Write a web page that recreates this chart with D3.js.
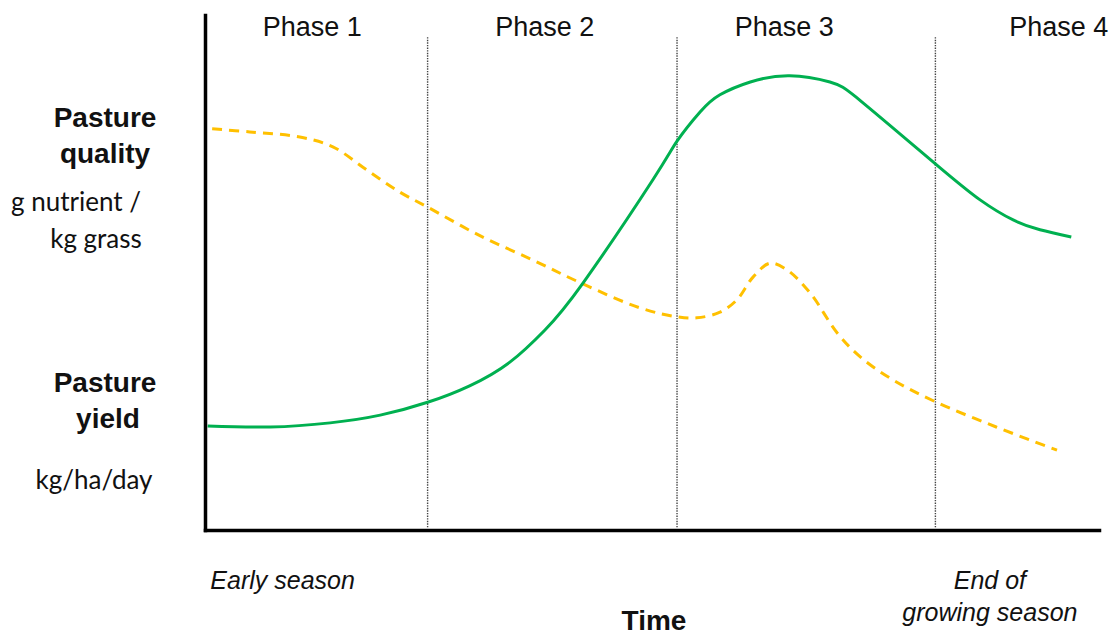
<!DOCTYPE html>
<html>
<head>
<meta charset="utf-8">
<script src="https://cdn.jsdelivr.net/npm/d3@7"></script>
<style>
  html, body { margin: 0; padding: 0; background: #fff; }
  svg { display: block; }
</style>
</head>
<body>
<svg id="chart" width="1114" height="636"></svg>
<script>
// ---- data (time in % of season, value in % of axis height) ----
const phaseNames = ["Phase 1", "Phase 2", "Phase 3", "Phase 4"];
const phaseLabelT = [12.0, 38.0, 64.8, 95.5];
const phaseBoundaries = [24.9, 52.8, 81.7];

const yieldT = [0.3, 7.3, 14.0, 19.6, 24.9, 29.6, 34.1, 38.0, 42.3, 50.1, 52.8, 55.4, 57.6, 61.0, 65.4, 69.9, 73.5, 81.7, 86.7, 90.4, 93.4, 96.9];
const yieldV = [20.2, 20.0, 20.8, 22.3, 24.8, 28.0, 32.6, 38.8, 48.0, 68.0, 75.5, 81.2, 84.5, 87.0, 88.2, 87.0, 83.1, 71.1, 64.1, 60.2, 58.3, 56.9];

const qualityT = [0.8, 5.0, 10.6, 14.3, 18.1, 21.8, 24.9, 30.8, 36.7, 42.0, 48.7, 52.8, 55.0, 57.6, 59.5, 61.3, 63.2, 65.1, 67.7, 70.7, 73.3, 77.0, 81.7, 88.5, 95.3];
const qualityV = [77.9, 77.3, 76.3, 74.4, 69.9, 65.6, 62.7, 57.1, 52.4, 48.0, 43.1, 41.4, 41.2, 42.3, 44.7, 49.1, 51.8, 50.5, 46.0, 38.3, 33.6, 29.1, 24.9, 20.0, 15.5];

const yAxisLabels = [
  { text: "Pasture", weight: "bold", v: 78.3, cx: 105 },
  { text: "quality", weight: "bold", v: 71.3, cx: 105 },
  { text: "g nutrient /", weight: "normal", v: 61.9, cx: 76 },
  { text: "kg grass", weight: "normal", v: 54.8, cx: 96 },
  { text: "Pasture", weight: "bold", v: 26.8, cx: 105 },
  { text: "yield", weight: "bold", v: 19.8, cx: 108 },
  { text: "kg/ha/day", weight: "normal", v: 8.0, cx: 94 }
];
const xAxisNotes = [
  { lines: ["Early season"], t: 0.6, anchor: "start" },
  { lines: ["End of", "growing season"], t: 87.8, anchor: "middle" }
];
const xTitle = "Time";

// ---- layout ----
const svg = d3.select("#chart");
const x = d3.scaleLinear().domain([0, 100]).range([205, 1099]);
const y = d3.scaleLinear().domain([0, 100]).range([530, 15]);

// phase separators
svg.append("g").selectAll("line").data(phaseBoundaries).join("line")
  .attr("x1", d => x(d)).attr("x2", d => x(d))
  .attr("y1", y(95.7)).attr("y2", y(0.5))
  .attr("stroke", "#444").attr("stroke-width", 1.4)
  .attr("stroke-dasharray", "1.4,1.2");

// phase labels
svg.append("g").selectAll("text").data(phaseNames).join("text")
  .attr("x", (d, i) => x(phaseLabelT[i])).attr("y", 36)
  .attr("text-anchor", "middle")
  .attr("font-family", "'Liberation Sans', Arial, sans-serif")
  .attr("font-size", 27).attr("fill", "#111")
  .text(d => d);

// curves
const smooth = d3.line().x(d => x(d[0])).y(d => y(d[1])).curve(d3.curveNatural);
const bumpy = d3.line().x(d => x(d[0])).y(d => y(d[1])).curve(d3.curveCatmullRom.alpha(0.5));

svg.append("path")
  .attr("d", bumpy(qualityT.map((t, i) => [t, qualityV[i]])))
  .attr("fill", "none").attr("stroke", "#FFC000").attr("stroke-width", 3)
  .attr("stroke-dasharray", "10,7");

svg.append("path")
  .attr("d", smooth(yieldT.map((t, i) => [t, yieldV[i]])))
  .attr("fill", "none").attr("stroke", "#00B050").attr("stroke-width", 3);

// axes (no ticks)
svg.append("g").attr("transform", `translate(0,${y(0)})`)
  .call(d3.axisBottom(x).tickValues([]).tickSizeOuter(0));
svg.append("g").attr("transform", `translate(${x(0)},0)`)
  .call(d3.axisLeft(y).tickValues([]).tickSizeOuter(0));
svg.selectAll(".domain").attr("stroke", "#000").attr("stroke-width", 3.5).attr("stroke-linecap", "square");

// y-side labels
svg.append("g").selectAll("text").data(yAxisLabels).join("text")
  .attr("x", d => d.cx)
  .attr("y", d => y(d.v))
  .attr("text-anchor", "middle")
  .attr("font-family", d => d.weight === "bold" ? "'Liberation Sans', Arial, sans-serif" : "Lato, 'Open Sans', sans-serif")
  .attr("font-weight", d => d.weight)
  .attr("font-size", d => d.weight === "bold" ? 28 : 26)
  .attr("fill", "#111")
  .text(d => d.text);

// x-side notes
const notes = svg.append("g").selectAll("text").data(xAxisNotes).join("text")
  .attr("x", d => x(d.t)).attr("y", 589)
  .attr("text-anchor", d => d.anchor)
  .attr("font-family", "'Liberation Sans', Arial, sans-serif")
  .attr("font-style", "italic").attr("font-size", 25).attr("fill", "#111");
notes.selectAll("tspan").data(d => d.lines.map(l => ({ l, t: d.t }))).join("tspan")
  .attr("x", d => x(d.t)).attr("dy", (d, i) => i === 0 ? 0 : 32)
  .text(d => d.l);

svg.append("text")
  .attr("x", 654).attr("y", 630)
  .attr("text-anchor", "middle")
  .attr("font-family", "'Liberation Sans', Arial, sans-serif")
  .attr("font-weight", "bold").attr("font-size", 28).attr("fill", "#111")
  .text(xTitle);
</script>
</body>
</html>
